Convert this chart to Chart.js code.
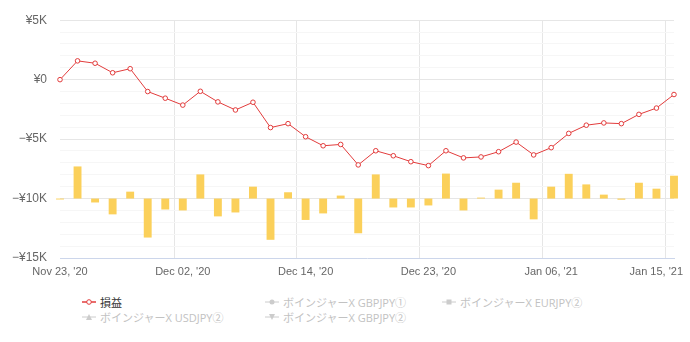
<!DOCTYPE html>
<html>
<head>
<meta charset="utf-8">
<script src="https://cdn.jsdelivr.net/npm/chart.js@4"></script>
<style>
  body { margin: 0; background: #fff; }
  #wrap { position: relative; width: 690px; height: 342px; }
  #chartBox { position: absolute; left: 0; top: 0; width: 690px; height: 285px; }
  .legend-item { position: absolute; display: flex; align-items: center; font: 11px "Open Sans", "Noto Sans CJK JP", sans-serif; color: #c2c2c2; white-space: nowrap; }
  .legend-item svg { margin-right: 4px; }
  .legend-item.on { color: #333; }
</style>
</head>
<body>
<div id="wrap">
  <div id="chartBox"><canvas id="pnlChart"></canvas></div>
  <div id="legend"></div>
</div>
<script>
const dates = [
  "Nov 23, '20", "Nov 24, '20", "Nov 25, '20", "Nov 26, '20", "Nov 27, '20", "Nov 30, '20", "Dec 01, '20",
  "Dec 02, '20", "Dec 03, '20", "Dec 04, '20", "Dec 07, '20", "Dec 08, '20", "Dec 09, '20", "Dec 10, '20",
  "Dec 14, '20", "Dec 15, '20", "Dec 16, '20", "Dec 17, '20", "Dec 18, '20", "Dec 21, '20", "Dec 22, '20",
  "Dec 23, '20", "Dec 24, '20", "Dec 28, '20", "Dec 29, '20", "Dec 30, '20", "Jan 04, '21", "Jan 05, '21",
  "Jan 06, '21", "Jan 07, '21", "Jan 08, '21", "Jan 11, '21", "Jan 12, '21", "Jan 13, '21", "Jan 14, '21",
  "Jan 15, '21"
];

// cumulative P/L (yen)
const pnl = [
  0, 1580, 1380, 580, 920, -1000, -1560, -2140, -980, -1870, -2550, -1900,
  -4030, -3700, -4800, -5560, -5450, -7170, -5980, -6400, -6900, -7230, -5980, -6580,
  -6500, -6060, -5250, -6330, -5720, -4520, -3830, -3640, -3700, -2920, -2390, -1250
];

// daily bars, drawn on their own hidden axis
const daily = [
  -80, 2700, -330, -1330, 580, -3280, -920, -1000, 2030, -1500, -1170, 1000,
  -3470, 530, -1800, -1250, 250, -2920, 2030, -750, -750, -580, 2100, -1000,
  80, 750, 1330, -1750, 1000, 2080, 1190, 330, -100, 1330, 830, 1920
];

const yMin = -15000;
const yMax = 5000;
const tickEvery = 7;

const seriesNames = ['損益', 'ボインジャーX GBPJPY①', 'ボインジャーX EURJPY②', 'ボインジャーX USDJPY②', 'ボインジャーX GBPJPY②'];
const seriesShapes = ['circle', 'dot', 'square', 'triangle', 'triangleDown'];

function yen(v) {
  if (v === 0) return '¥0';
  return (v < 0 ? '−' : '') + '¥' + Math.abs(v) / 1000 + 'K';
}

// x labels drawn by hand so the last one stays inside the canvas
const xLabels = {
  id: 'xLabels',
  afterDraw(chart) {
    const { ctx, scales } = chart;
    const x = scales.x;
    ctx.save();
    ctx.font = '11px "Liberation Sans", Arial, sans-serif';
    ctx.fillStyle = '#666';
    ctx.textAlign = 'center';
    ctx.textBaseline = 'middle';
    dates.forEach((d, i) => {
      if (i % tickEvery !== 0) return;
      const w = ctx.measureText(d).width;
      let px = x.getPixelForTick(i);
      px = Math.min(px, chart.width - w / 2 - 7);
      ctx.fillText(d, px, x.top + 14);
    });
    ctx.restore();
  }
};

new Chart(document.getElementById('pnlChart'), {
  data: {
    labels: dates,
    datasets: [
      {
        type: 'line',
        label: seriesNames[0],
        data: pnl,
        borderColor: '#e23c3c',
        borderWidth: 1,
        pointRadius: 2.3,
        pointBorderWidth: 1,
        pointBackgroundColor: '#fff',
        pointBorderColor: '#e23c3c',
        tension: 0,
        yAxisID: 'y',
        order: 0
      },
      {
        type: 'bar',
        label: 'daily',
        data: daily,
        backgroundColor: '#fbd05a',
        barPercentage: 0.5,
        categoryPercentage: 0.9,
        clip: false,
        yAxisID: 'y1',
        order: 1
      }
    ]
  },
  options: {
    responsive: true,
    maintainAspectRatio: false,
    animation: false,
    layout: { padding: { top: 17, right: 16, left: 0, bottom: 0 } },
    plugins: {
      legend: { display: false },
      tooltip: { enabled: false }
    },
    scales: {
      x: {
        type: 'category',
        offset: false,
        ticks: { display: false },
        grid: {
          drawTicks: false,
          color: ctx => (ctx.index % tickEvery === 0 ? '#e6e6e6' : 'rgba(0,0,0,0)')
        },
        border: { color: '#ccd6eb' },
        afterFit(scale) { scale.height = 27; }
      },
      y: {
        min: yMin,
        max: yMax,
        ticks: {
          stepSize: 1000,
          autoSkip: false,
          padding: 13,
          color: '#666',
          font: { family: '"Liberation Sans", Arial, sans-serif', size: 12 },
          callback: v => (v % 5000 === 0 ? yen(v) : '')
        },
        grid: {
          drawTicks: false,
          color: ctx => {
            const v = ctx.tick.value;
            if (v === yMin) return 'rgba(0,0,0,0)';
            return v % 5000 === 0 ? '#e6e6e6' : '#f6f6f6';
          }
        },
        border: { display: false },
        afterFit(scale) { scale.width = 60; }
      },
      y1: {
        display: false,
        min: -5000,
        max: 15000
      }
    }
  },
  plugins: [xLabels]
});

// legend below the chart, three fixed columns
function marker(shape, color, on) {
  let mark = '';
  if (shape === 'circle') mark = `<circle cx="7" cy="5" r="2.3" fill="#fff" stroke="${color}" stroke-width="1"/>`;
  if (shape === 'dot') mark = `<circle cx="7" cy="5" r="2.5" fill="${color}"/>`;
  if (shape === 'square') mark = `<rect x="4.5" y="2.5" width="5" height="5" fill="${color}"/>`;
  if (shape === 'triangle') mark = `<path d="M7 2 L10 8 L4 8 Z" fill="${color}"/>`;
  if (shape === 'triangleDown') mark = `<path d="M4 2 L10 2 L7 8 Z" fill="${color}"/>`;
  return `<svg width="14" height="10"><line x1="0" y1="5" x2="14" y2="5" stroke="${color}" stroke-width="${on ? 1.5 : 1}"/>${mark}</svg>`;
}

const colLeft = [82, 265, 442];
const rowTop = [294, 309];
const legend = document.getElementById('legend');
seriesNames.forEach((name, i) => {
  const on = i === 0;
  const color = on ? '#e23c3c' : '#cccccc';
  const el = document.createElement('div');
  el.className = 'legend-item' + (on ? ' on' : '');
  el.style.left = colLeft[i % 3] + 'px';
  el.style.top = rowTop[Math.floor(i / 3)] + 'px';
  el.innerHTML = marker(seriesShapes[i], color, on) + '<span>' + name + '</span>';
  legend.appendChild(el);
});
</script>
</body>
</html>
